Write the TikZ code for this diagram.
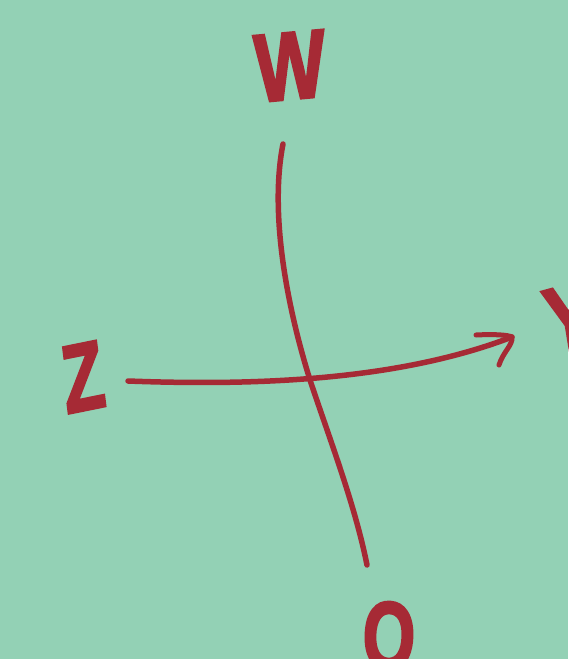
\documentclass[tikz,border=0pt]{standalone}
\usepackage{fontspec}
\newfontfamily\heavy{Liberation Sans}[BoldFeatures={FakeBold=3}]
\definecolor{bg}{HTML}{93D1B5}
\definecolor{ink}{HTML}{A62A35}
\begin{document}
\begin{tikzpicture}[x=1pt,y=-1pt,
  letter/.style={text=ink,font=\heavy\bfseries\fontsize{96}{96}\selectfont,inner sep=0pt,xscale=0.78},
  stroke/.style={draw=ink,line width=5.5pt,line cap=round,line join=round}]
\useasboundingbox[fill=bg] (0,0) rectangle (568,659);
\node[letter,rotate=4] (W) at (290,66) {W};
\node[letter,rotate=9,xscale=0.9] (Z) at (83,377) {Z};
\node[letter,rotate=12] (Y) at (570,318) {Y};
\node[letter,rotate=-3,xscale=0.9] (O) at (389,636) {O};
\coordinate (vtop) at (283,144);
\coordinate (vbot) at (367,565);
\coordinate (hl) at (128,381);
\coordinate (tip) at (512,337);
\coordinate (barb1) at (476,335);
\coordinate (barb2) at (499,365);
\draw[stroke] (vtop) .. controls (270,210) and (285,300) .. (310,380)
  .. controls (330,440) and (355,505) .. (vbot);
\draw[stroke] (hl) .. controls (260,386) and (400,380) .. (tip);
\draw[stroke,line width=5pt] (barb1) .. controls (495,334) and (508,335) .. (tip)
  .. controls (513,345) and (503,352) .. (barb2);
\end{tikzpicture}
\end{document}
